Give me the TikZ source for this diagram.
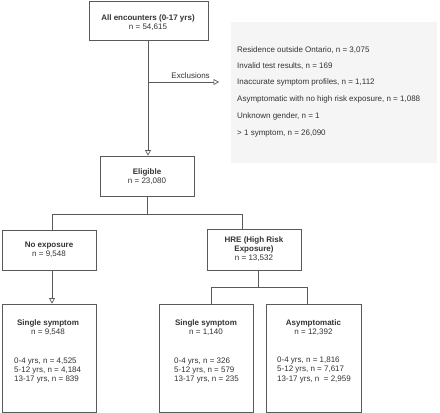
\documentclass[tikz,border=0pt]{standalone}
\usepackage{fontspec}
\setmainfont{Liberation Sans}
\usetikzlibrary{arrows.meta}
\definecolor{linec}{HTML}{595959}
\definecolor{textc}{HTML}{333333}
\definecolor{grayfill}{HTML}{F5F5F5}
\tikzset{
  box/.style={draw=linec, line width=0.8pt, fill=white, inner sep=0pt},
  txt/.style={text=textc, font=\fontsize{8}{9.3}\selectfont, align=center, inner sep=0pt},
  ltxt/.style={text=textc, font=\fontsize{8}{9.3}\selectfont, align=left, inner sep=0pt, anchor=west},
  conn/.style={draw=linec, line width=0.8pt},
  arr/.style={conn, -{Triangle[open, length=5.5pt, width=6pt, line width=0.7pt]}}
}
\begin{document}
\begin{tikzpicture}[x=1pt,y=-1pt]
\useasboundingbox (0,0) rectangle (440,413);
% exclusion box
\node[fill=grayfill, minimum width=206pt, minimum height=141pt, inner sep=0pt] (excl) at (334,92.5) {};
\node[ltxt] (e1) at (237,50) {Residence outside Ontario, n = 3,075};
\node[ltxt] (e2) at (237,66.5) {Invalid test results, n = 169};
\node[ltxt] (e3) at (237,82.5) {Inaccurate symptom profiles, n = 1,112};
\node[ltxt] (e4) at (237,99) {Asymptomatic with no high risk exposure, n = 1,088};
\node[ltxt] (e5) at (237,116) {Unknown gender, n = 1};
\node[ltxt] (e6) at (237,134) {> 1 symptom, n = 26,090};
% boxes
\node[box, minimum width=119pt, minimum height=39pt] (all) at (148.5,21) {};
\node[txt] (allt) at (148,22.5) {\textbf{All encounters (0-17 yrs)}\\n = 54,615};
\node[box, minimum width=94pt, minimum height=40pt] (elig) at (147,176) {};
\node[txt] (eligt) at (147,176.5) {\textbf{Eligible}\\n = 23,080};
\node[box, minimum width=94pt, minimum height=40pt] (noexp) at (49,250) {};
\node[txt] (noexpt) at (49,250) {\textbf{No exposure}\\n = 9,548};
\node[box, minimum width=94pt, minimum height=41pt] (hre) at (254,249.5) {};
\node[txt] (hret) at (254,249) {\textbf{HRE (High Risk}\\\textbf{Exposure)}\\n = 13,532};
\node[box, minimum width=94pt, minimum height=108pt] (s1) at (49,358) {};
\node[box, minimum width=94pt, minimum height=108pt] (s2) at (206,358) {};
\node[box, minimum width=95pt, minimum height=108pt] (as) at (313.5,358) {};
\node[txt] (s1t) at (48,327.5) {\textbf{Single symptom}\\n = 9,548};
\node[txt] (s2t) at (206,327.5) {\textbf{Single symptom}\\n = 1,140};
\node[txt] (ast) at (313.5,327.5) {\textbf{Asymptomatic}\\n = 12,392};
\node[ltxt] (s1l) at (14,370.5) {0-4 yrs, n = 4,525\\5-12 yrs, n = 4,184\\13-17 yrs, n = 839};
\node[ltxt] (s2l) at (174,370.5) {0-4 yrs, n = 326\\5-12 yrs, n = 579\\13-17 yrs, n = 235};
\node[ltxt] (asl) at (277,370) {0-4 yrs, n = 1,816\\5-12 yrs, n = 7,617\\13-17 yrs, n\ \ = 2,959};
% connectors
\coordinate (exA) at (148,82);
\coordinate (exB) at (219,82);
\draw[arr] (all.south -| exA) -- (elig.north -| exA);
\draw[arr] (exA) -- node[txt, above=3pt, pos=0.6] (exl) {Exclusions} (exB);
\coordinate (b1) at (147,214);
\draw[conn] (elig.south -| b1) -- (b1);
\draw[conn] (noexp.north -| 52,0) -- (52,214) -- (242,214) -- (hre.north -| 242,0);
\draw[arr] (noexp.south -| 52,0) -- (s1.north -| 52,0);
\coordinate (b2) at (258,287);
\draw[conn] (hre.south -| b2) -- (b2);
\draw[conn] (s2.north -| 211,0) -- (211,287) -- (307,287) -- (as.north -| 307,0);
\end{tikzpicture}
\end{document}
